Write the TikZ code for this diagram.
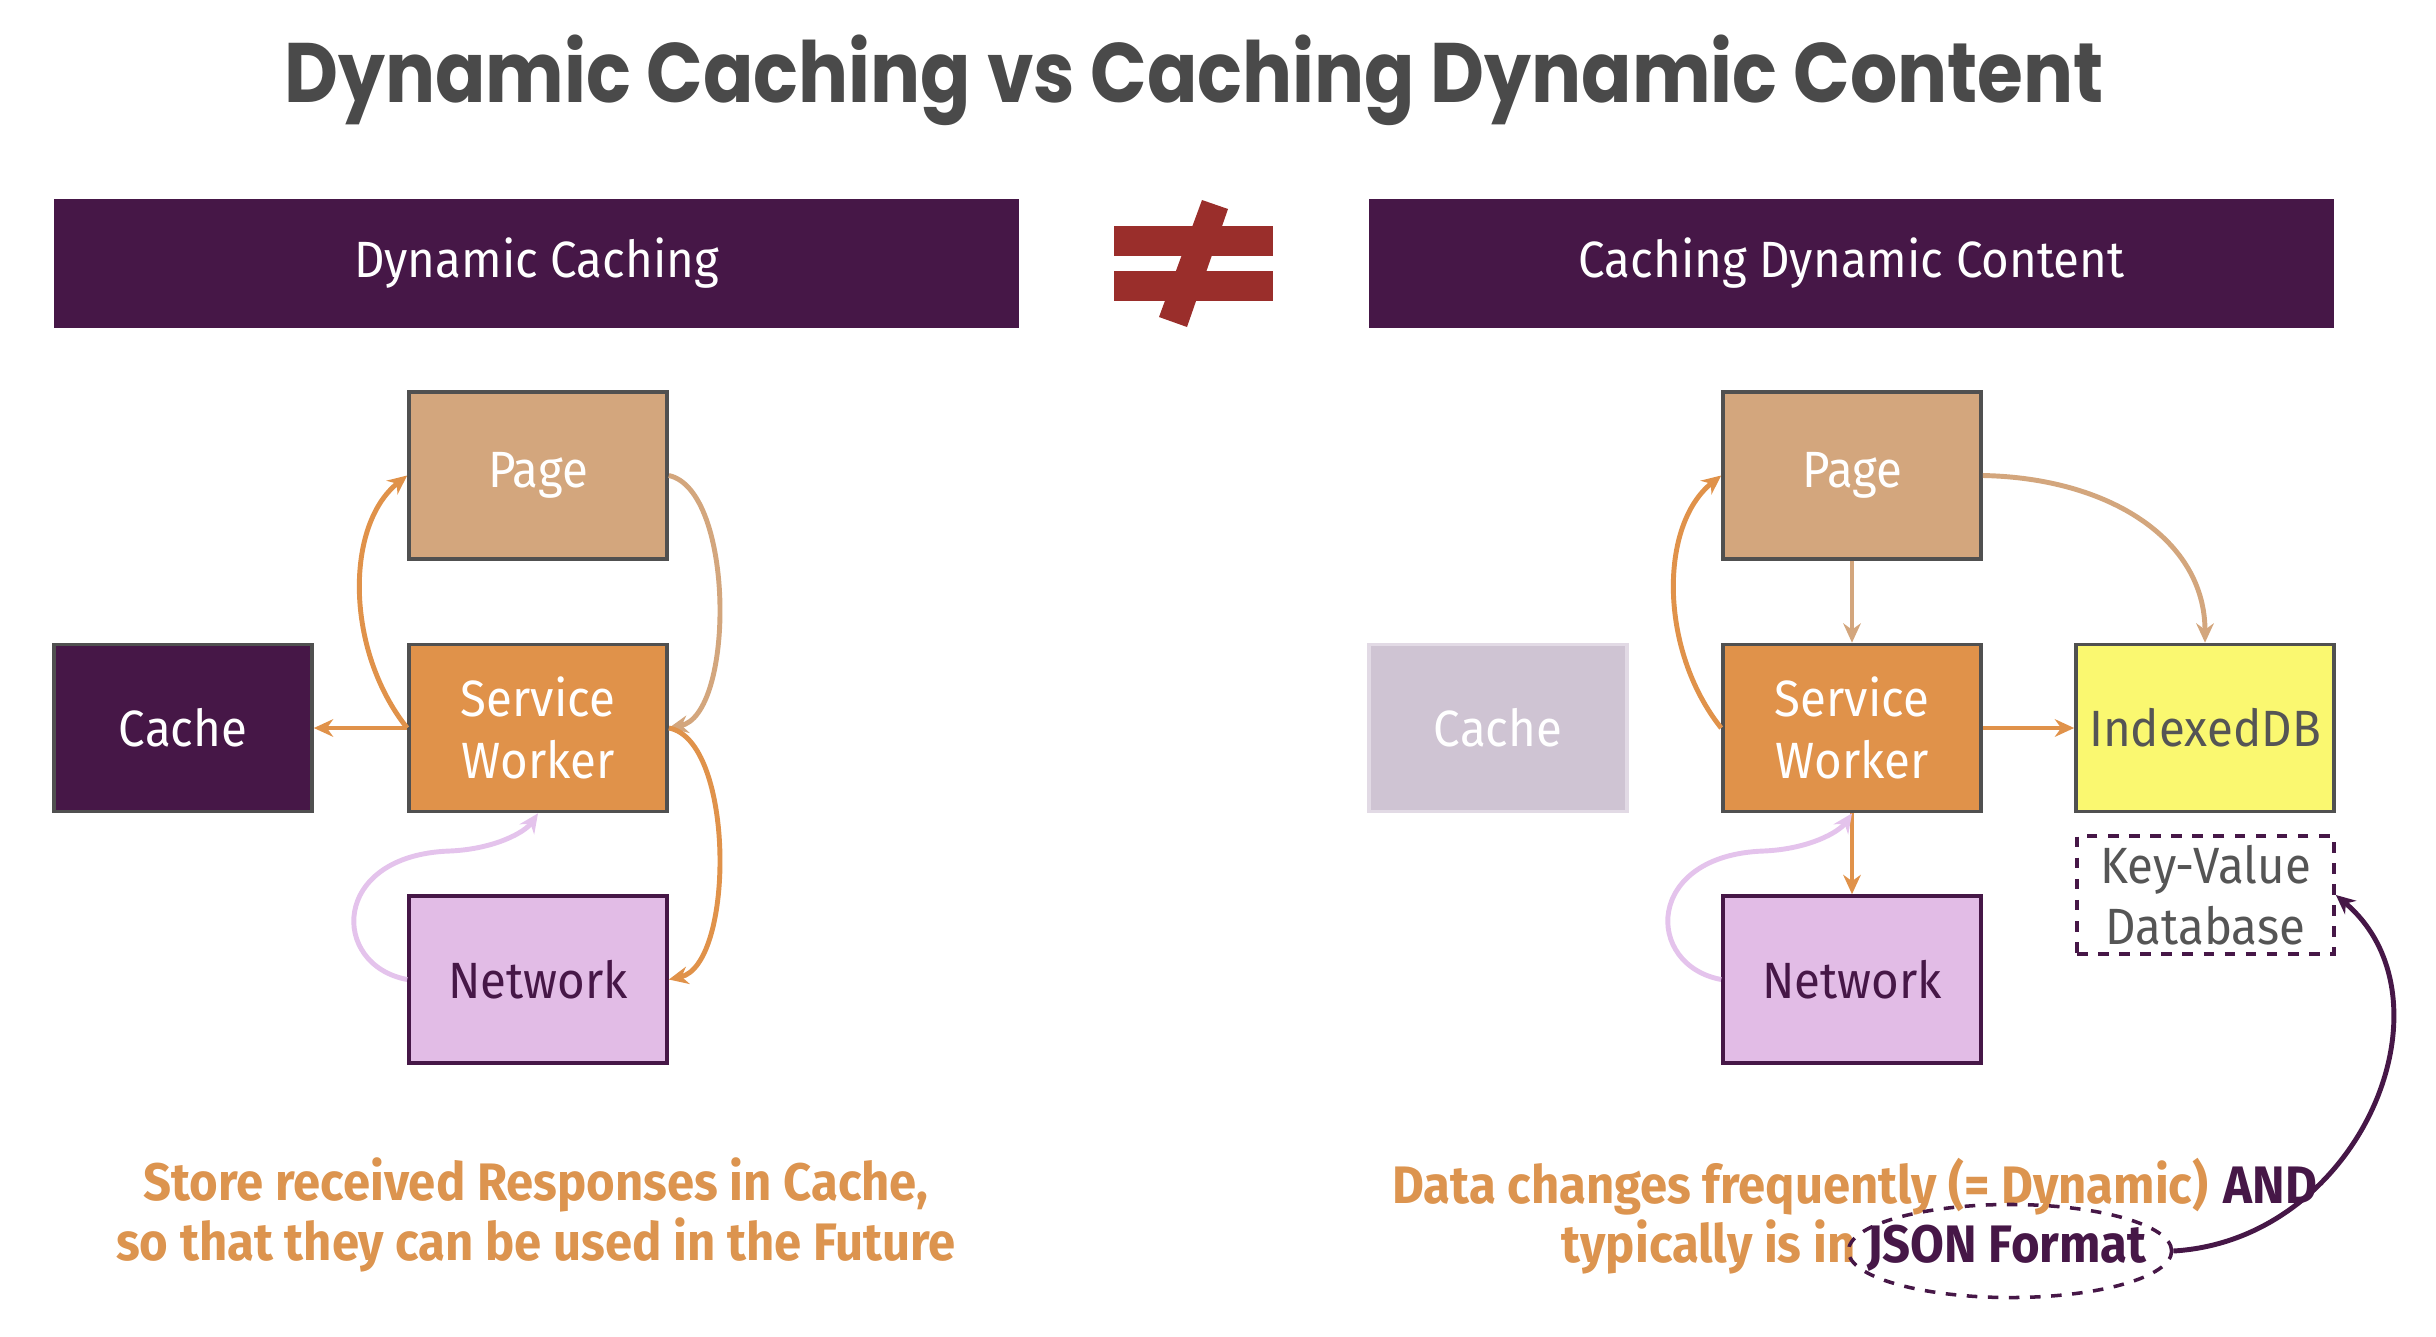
\documentclass[tikz,border=0pt]{standalone}
\usepackage{fontspec}
\setmainfont{Fira Sans}[FakeStretch=0.93]
\newfontfamily\titlefont{Poppins}[FakeStretch=0.88]
\usetikzlibrary{positioning,arrows.meta,shapes.geometric}

\definecolor{headpurple}{HTML}{461747}
\definecolor{pagetan}{HTML}{D3A67D}
\definecolor{sworange}{HTML}{E0924A}
\definecolor{netpink}{HTML}{E2BCE6}
\definecolor{linkpink}{HTML}{E4C3EC}
\definecolor{idbyellow}{HTML}{FAF870}
\definecolor{fadedcache}{HTML}{CFC4D3}
\definecolor{fadedline}{HTML}{E2DAE5}
\definecolor{neqred}{HTML}{9A2E2B}
\definecolor{titlegray}{HTML}{4A4A4A}
\definecolor{noteorange}{HTML}{DC944F}
\definecolor{boxline}{HTML}{505050}
\definecolor{textgray}{HTML}{555555}

\begin{document}
\begin{tikzpicture}[
  x=0.01cm, y=-0.01cm,
  box/.style={draw=boxline, line width=1pt, minimum width=2.58cm, minimum height=1.67cm,
    inner sep=0pt, align=center, text=white, font=\fontsize{14.5}{17.5}\selectfont},
  head/.style={fill=headpurple, minimum width=9.65cm, minimum height=1.29cm,
    text=white, font=\fontsize{14.5}{17.5}\selectfont},
  note/.style={font=\fontsize{15}{17}\selectfont\bfseries, text=noteorange, inner sep=0pt},
  arr/.style={-{Stealth[length=5.5pt,width=5pt]}, line width=1.4pt}
]
  \useasboundingbox (0,0) rectangle (2436,1336);

  % Title
  \node[font=\titlefont\bfseries\fontsize{24}{28}\selectfont, text=titlegray] (title) at (1194,80)
    {Dynamic Caching vs Caching Dynamic Content};

  % Column headers
  \node[head] (hd1) at (536.5,263.5) {Dynamic Caching};
  \node[head] (hd2) at (1851.5,263.5) {Caching Dynamic Content};

  % Not-equal sign
  \fill[neqred] (1114,226) rectangle (1273,256);
  \fill[neqred] (1114,271) rectangle (1273,301);
  \fill[neqred] (1202,200) -- (1228,209) -- (1187,327) -- (1159,317) -- cycle;

  % Left: dynamic caching
  \node[box, fill=pagetan] (page1) at (538,475.5) {Page};
  \node[box, fill=sworange] (sw1) at (538,728) {Service\\Worker};
  \node[box, fill=netpink, draw=headpurple, text=headpurple] (net1) at (538,979.5) {Network};
  \node[box, fill=headpurple] (cache1) at (183,728) {Cache};

  \draw[arr, sworange] (sw1.west) .. controls (345,650) and (345,525) .. (page1.west);
  \draw[arr, sworange] (sw1.west) -- (cache1.east);
  \draw[arr, pagetan] (page1.east) .. controls (735,490) and (735,715) .. (sw1.east);
  \draw[arr, sworange] (sw1.east) .. controls (735,740) and (735,965) .. (net1.east);
  \draw[arr, linkpink] (net1.west) .. controls (330,965) and (330,855) .. (450,851)
    .. controls (495,849) and (525,832) .. (sw1.south);

  % Right: caching dynamic content
  \node[box, fill=pagetan] (page2) at (1852,475.5) {Page};
  \node[box, fill=sworange] (sw2) at (1852,728) {Service\\Worker};
  \node[box, fill=netpink, draw=headpurple, text=headpurple] (net2) at (1852,979.5) {Network};
  \node[box, fill=fadedcache, draw=fadedline] (cache2) at (1498,728) {Cache};
  \node[box, fill=idbyellow, text=textgray] (idb) at (2205,728) {IndexedDB};
  \node[draw=headpurple, dashed, line width=1pt, minimum width=2.57cm, minimum height=1.18cm,
    inner sep=0pt, align=center, text=textgray, font=\fontsize{14.5}{17.5}\selectfont]
    (kv) at (2205.5,895) {Key-Value\\Database};

  \draw[arr, sworange] (sw2.west) .. controls (1659,650) and (1659,525) .. (page2.west);
  \draw[arr, pagetan] (page2.south) -- (sw2.north);
  \draw[arr, pagetan] (page2.east) .. controls (2110,478) and (2205,540) .. (idb.north);
  \draw[arr, sworange] (sw2.east) -- (idb.west);
  \draw[arr, sworange] (sw2.south) -- (net2.north);
  \draw[arr, linkpink] (net2.west) .. controls (1644,965) and (1644,855) .. (1764,851)
    .. controls (1809,849) and (1839,832) .. (sw2.south);

  % Bottom notes
  \node[note, align=center] (note1) at (536,1215)
    {Store received Responses in Cache,\\so that they can be used in the Future};

  \node[note, text=headpurple, anchor=base east] (and) at (2318,1203) {AND};
  \node[note, anchor=base east] (data) at ([xshift=-4pt]and.base west)
    {Data changes frequently (= Dynamic)};
  \node[note, text=headpurple, anchor=base] (json) at (2007,1262) {JSON Format};
  \node[note, anchor=base east] (typ) at ([xshift=-3pt]json.base west) {typically is in};

  \node[ellipse, draw=headpurple, dashed, line width=1pt,
    minimum width=3.23cm, minimum height=0.93cm] (ring) at (2010,1251) {};
  \draw[arr, headpurple] (ring.east) .. controls (2360,1240) and (2460,1000) .. (kv.east);
\end{tikzpicture}
\end{document}
